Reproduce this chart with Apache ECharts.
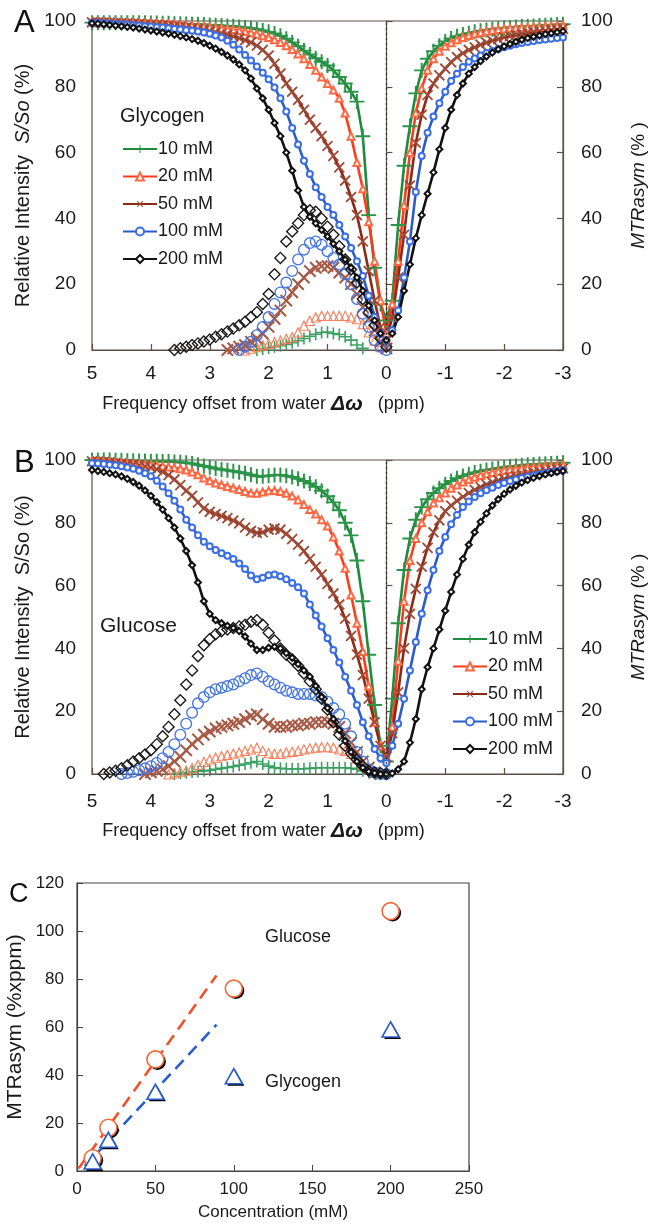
<!DOCTYPE html>
<html>
<head>
<meta charset="utf-8">
<script src="https://cdn.jsdelivr.net/npm/echarts/dist/echarts.min.js"></script>
<style>html,body{margin:0;padding:0;background:#fff}#main{width:651px;height:1226px}</style>
</head>
<body>
<div id="main"></div>
<script>
// frequency offsets (ppm), 5 -> -3
const offsets = [5,4.9,4.8,4.7,4.6,4.5,4.4,4.3,4.2,4.1,4,3.9,3.8,3.7,3.6,3.5,3.4,3.3,3.2,3.1,
  3,2.9,2.8,2.7,2.6,2.5,2.4,2.3,2.2,2.1,2,1.9,1.8,1.7,1.6,1.5,1.4,1.3,1.2,1.1,
  1,0.9,0.8,0.7,0.6,0.5,0.4,0.3,0.2,0.1,0,-0.1,-0.2,-0.3,-0.4,-0.5,-0.6,-0.7,-0.8,-0.9,
  -1,-1.1,-1.2,-1.3,-1.4,-1.5,-1.6,-1.7,-1.8,-1.9,-2,-2.1,-2.2,-2.3,-2.4,-2.5,-2.6,-2.7,-2.8,-2.9,-3];
const concLabels = ['10 mM','20 mM','50 mM','100 mM','200 mM'];

// panel A, glycogen Z-spectra (%)
const zA10 = [99.5,99.5,99.5,99.5,99.5,99.5,99.5,99.5,99.5,99.5,
  99.4,99.4,99.3,99.3,99.2,99.2,99.1,99.0,99.0,98.9,
  98.8,98.7,98.6,98.5,98.4,98.2,98.0,97.8,97.5,97.1,
  96.7,96.2,95.5,94.6,93.5,92.3,91.0,89.8,88.7,87.6,
  86.5,85.0,83.0,81.0,78.5,75.5,65,41,25,14,
  9,15,38,56,68,78,85,88.5,90.8,92.5,
  93.8,94.7,95.4,95.9,96.3,96.7,97.0,97.3,97.5,97.7,
  97.9,98.0,98.2,98.3,98.4,98.5,98.6,98.7,98.8,98.9,99.0];
const zA20 = [99.8,99.8,99.7,99.7,99.6,99.6,99.5,99.5,99.4,99.4,
  99.3,99.2,99.1,99.0,98.9,98.8,98.7,98.6,98.5,98.4,
  98.2,98.0,97.8,97.6,97.4,97.1,96.8,96.4,96.0,95.5,
  95.0,94.3,93.5,92.5,91.3,90.0,88.5,86.8,85.0,83.0,
  81.0,79.0,76.5,72.0,65.0,57.0,49.0,39.0,27.0,15.0,
  5,14,27,44,60,72,79.5,85,88.5,90.8,
  92.3,93.4,94.3,95.0,95.6,96.1,96.5,96.9,97.2,97.4,
  97.6,97.8,97.9,98.0,98.1,98.2,98.3,98.4,98.5,98.6,98.7];
const zA50 = [99.6,99.6,99.5,99.5,99.4,99.4,99.3,99.2,99.1,99.0,
  98.9,98.8,98.7,98.6,98.4,98.2,98.0,97.8,97.5,97.2,
  96.9,96.5,96.1,95.8,95.3,94.8,94.2,93.5,92.5,91.2,
  89.5,87.0,84.0,81.0,78.5,76.0,73.0,70.0,67.5,65.0,
  62.0,59.0,55.5,51.5,46.5,41.0,33.0,24.0,15.0,7.0,
  3,10,22,35,50,63,71.5,77.5,81,83.5,
  85.5,87.5,89.0,90.2,91.2,92.0,92.8,93.4,94.0,94.5,
  95.0,95.4,95.7,96.0,96.3,96.6,96.8,97.0,97.2,97.4,97.6];
const zA100 = [99.5,99.4,99.3,99.2,99.1,99.0,98.9,98.7,98.6,98.4,
  98.3,98.1,98.0,97.8,97.6,97.4,97.2,97.0,96.8,96.5,
  96.1,95.6,95.0,94.0,92.8,91.3,89.7,88.0,86.2,84.3,
  82.3,79.8,76.5,72.5,67.5,62.5,57.5,53.5,49.5,46.5,
  43.5,41.0,38.0,34.5,31.0,27.0,22.5,16.5,10.0,5.0,
  3,6,12,22,33,48,59,66,71,75,
  78.5,81.8,84.0,86.0,87.6,88.6,89.5,90.3,90.9,91.5,
  92.0,92.5,92.9,93.3,93.6,93.9,94.2,94.4,94.6,94.8,95.0];
const zA200 = [99.3,99.2,99.0,98.8,98.6,98.4,98.2,98.0,97.7,97.4,
  97.1,96.8,96.5,96.2,95.8,95.4,95.0,94.5,94.0,93.3,
  92.5,91.6,90.6,89.5,88.3,86.8,85.0,82.5,79.5,76.5,
  73.0,69.0,65.0,60.0,54.5,48.5,43.5,40.5,38.5,36.5,
  34.5,32.3,30.0,27.5,25.0,22.0,18.0,13.5,9.0,5.0,
  3,5,10,18,26,34,41,47.5,54,61,
  67.5,73,77.5,81,84,86,87.8,89.2,90.4,91.4,
  92.3,93.0,93.7,94.3,94.8,95.2,95.6,96.0,96.3,96.6,96.9];

// panel A, glycogen MTRasym (%), offsets 5 -> 0
const mA10 = [null,null,null,null,null,null,null,null,null,null,
  null,null,null,null,null,null,null,null,null,null,
  null,null,null,null,null,null,null,null,0,0.3,
  0.6,1,1.3,1.7,2.2,2.8,3.5,4.2,4.8,5.3,
  5.5,5,4.7,4,3,1.5,0.5,null,null,null,null];
const mA20 = [null,null,null,null,null,null,null,null,null,null,
  null,null,null,null,null,null,null,null,null,null,
  null,null,null,null,null,null,0,0.5,1,1.5,
  2,2.5,3,3.5,4,5.5,7.5,9,10,10.5,
  10.5,10.5,10.5,10.5,10,9.5,8,5.5,3,1,null];
const mA50 = [null,null,null,null,null,null,null,null,null,null,
  null,null,null,null,null,null,null,null,null,null,
  null,null,null,0,0.5,1,1.5,2.5,3.5,5,
  7,9.5,12,15,17.5,20,22,24,25,25.5,
  25.5,25,23.5,22,20,17,13,9.5,6,2.5,0.5];
const mA100 = [null,null,null,null,null,null,null,null,null,null,
  null,null,null,null,null,null,null,null,null,null,
  null,null,null,null,null,0,1,2.5,4.5,7,
  10,14,17.5,20.5,24,27.5,30.5,32.5,33,32,
  30,28,26,23,20,15.5,11,7,3,1,0];
const mA200 = [null,null,null,null,null,null,null,null,null,null,
  null,null,null,null,0,0.5,1,1.5,2,2.6,
  3.2,4,4.8,5.6,6.5,7.5,8.6,10,11.5,14,
  17,23,28,33,36,38.5,41,42.5,42,40,
  37.5,35,31.5,27.5,24.5,20.5,15.5,11.5,7.5,3.5,1];

// panel B, glucose Z-spectra (%)
const zB10 = [100,100,100,100,99.9,99.9,99.8,99.8,99.7,99.7,
  99.6,99.6,99.5,99.5,99.4,99.3,99.1,98.9,98.5,98.1,
  97.7,97.3,97.0,96.7,96.4,96.1,95.8,95.3,94.8,94.8,
  95.0,95.2,95.2,95.0,94.6,94.0,93.3,92.5,91.5,90.2,
  88.5,86.5,84.0,80.0,76.0,68.0,55.0,38.0,22.0,9.0,
  4,24,48,65,75,81,85,87.5,89.5,91,
  92.3,93.3,94.2,94.9,95.5,96.0,96.4,96.8,97.1,97.4,
  97.7,97.9,98.1,98.3,98.5,98.6,98.7,98.8,98.9,99.0,99.1];
const zB20 = [99.7,99.6,99.5,99.4,99.3,99.2,99.1,99.0,98.9,98.7,
  98.5,98.3,98.1,97.8,97.5,97.2,96.8,96.2,95.3,94.3,
  93.4,92.7,92.1,91.6,91.1,90.6,90.0,89.5,89.4,89.8,
  90.2,90.3,90.0,89.4,88.5,87.3,85.8,84.2,82.8,81.0,
  79.0,75.5,71.0,65.5,57.0,48.0,39.0,28.0,16.5,9.0,
  5,15,36,55,68,75,80,83.5,86.3,88,
  89.5,91.0,92.0,93.0,93.8,94.5,95.1,95.6,96.0,96.4,
  96.7,97.0,97.2,97.4,97.6,97.8,97.9,98.1,98.2,98.3,98.4];
const zB50 = [99.6,99.5,99.4,99.3,99.1,98.9,98.7,98.5,98.3,98.0,
  97.6,97.0,96.2,95.2,93.8,92.0,90.2,88.6,86.5,84.6,
  83.5,82.8,82.2,81.5,80.7,79.8,78.5,77.4,76.8,77.0,
  77.8,78.2,77.8,76.5,74.8,73.0,71.0,68.5,66.0,63.5,
  60.5,57.5,54.0,49.5,44.0,38.0,31.5,24.0,16.5,9.0,
  5.5,13,26,40,51,59,66,72,77,80.8,
  83.7,85.5,87.0,88.3,89.5,90.5,91.4,92.2,92.9,93.5,
  94.0,94.5,94.9,95.3,95.6,95.9,96.2,96.5,96.8,97.0,97.3];
const zB100 = [99.0,98.9,98.7,98.5,98.3,98.0,97.6,97.2,96.6,95.8,
  94.8,93.4,91.6,89.4,87.0,84.2,81.0,78.5,76.0,74.0,
  72.5,71.3,70.3,69.5,68.5,67.0,65.3,63.2,62.0,62.5,
  63.3,63.5,63.0,62.0,60.8,59.5,57.5,54.0,50.5,47.0,
  43.2,39.5,35.5,31.0,26.5,22.0,16.5,12.0,8.0,5.0,
  3.5,9,16,24,33,42,51,58.5,65,71,
  75.5,79.5,82.5,85.0,86.8,88.2,89.4,90.4,91.2,92.0,
  92.7,93.3,93.8,94.3,94.7,95.1,95.5,95.8,96.1,96.4,96.7];
const zB200 = [96.8,96.5,96.2,95.8,95.4,94.8,94.0,93.0,91.8,90.3,
  88.6,86.6,84.2,81.5,78.5,75.0,71.0,66.5,61.0,55.0,
  51.0,49.0,48.0,47.2,46.5,45.5,43.8,41.5,39.5,39.5,
  40.2,40.5,40.0,38.5,37.0,35.0,33.0,31.0,28.0,24.5,
  21.0,17.5,14.0,10.5,7.0,4.0,2.0,0.8,0.3,0.0,
  0.0,0.2,1.5,4.0,10.0,17.5,27.0,34.0,40.0,46.0,
  52.0,58.0,63.5,68.5,73.0,77.0,80.3,83.0,85.5,87.5,
  89.2,90.6,91.8,92.8,93.6,94.3,94.9,95.4,95.8,96.2,96.5];

// panel B, glucose MTRasym (%), offsets 5 -> 0
const mB10 = [null,null,null,null,null,null,null,null,null,null,
  null,null,null,null,0,0.2,0.4,0.6,0.8,1,
  1.2,1.5,1.8,2.1,2.4,2.8,3.2,3.6,4,3.2,
  2.5,2,1.8,1.7,1.6,1.6,1.7,1.8,1.9,2,
  2,2,2,2,1.8,1.5,1,0.5,0.2,null,null];
const mB20 = [null,null,null,null,null,null,null,null,null,null,
  null,null,null,0,0.3,0.7,1.2,2,3,4,
  4.8,5.3,5.8,6.2,6.6,7,7.5,8,8.5,7.5,
  6.8,6.5,6.5,7,7.2,7.5,8,8.3,8.5,8.7,
  8.7,8.5,8,7.5,6.5,5,3,1.5,0.5,null,null];
const mB50 = [null,null,null,null,null,null,null,null,null,0,
  0.5,1,1.5,2.5,4,5.5,7.5,9.5,11,12.5,
  13.5,14.5,15,15.5,16,16.5,17.5,18.5,19,17.5,
  16,15,15,15,15.5,15.5,16,16,16.5,16.5,
  16.5,16,15,13,10,7,4,2,0.5,0,null];
const mB100 = [null,null,null,null,null,0,0.3,0.7,1.2,1.8,
  2.5,3.5,5,7,9.5,12.5,16,19.5,22.5,24.5,
  26,27,27.5,28,28.5,29.5,30.5,31.5,32,31,
  29.5,28.5,27.5,26.5,26,25.5,25.5,25.5,25,24.5,
  23,21,19,16,12,7,4,1.5,0.5,0,0];
const mB200 = [null,null,0,0.5,1,1.8,2.8,4,5,6.2,
  7.6,9.5,12,15,19,23.5,28.5,33,37.5,41,
  43,44.5,45.5,46,46.5,47,47.5,48.5,49,47.5,
  45,42.5,40,38,36.5,34.5,32,29.5,27,24,
  20.5,16.5,12.5,9,6.5,4.5,2.5,1,0.5,0.2,0];

// panel C
const concC = [10, 20, 50, 100, 200];
const glucoseC = [5.3, 18, 46.5, 76, 108.3];
const glycogenC = [4, 13, 33, 39.5, 59];
const glucoseFitX = [1, 89], glucoseFitY = [1, 81.5];
const glycogenFitX = [5, 89], glycogenFitY = [2, 61];

const F = '"Liberation Sans", Arial, sans-serif';
const AX = '#5e4e48';
const TXT = '#1a1a1a';

const PLUS = 'path://M0,4.35H10V5.65H0Z M4.35,0H5.65V10H4.35Z';
const RING_DIAMOND = 'path://M5,0L10,5L5,10L0,5Z M5,1.5L1.5,5L5,8.5L8.5,5Z';
const RING_CIRCLE = 'path://M5,0A5,5,0,1,1,5,10A5,5,0,1,1,5,0Z M5,1.1A3.9,3.9,0,1,0,5,8.9A3.9,3.9,0,1,0,5,1.1Z';
const RING_TRI = 'path://M5,0L10,10L0,10Z M5,2.4L1.7,9.1L8.3,9.1Z';

// style per concentration: line colour, marker colour, MTRasym colour, symbols
const styles = [
  {line:'#1d8a3c', mark:'#2a9448', mtr:'#3aa062', sym:PLUS, size:15, rot:0, bw:0, msym:PLUS, msize:12, mrot:0},
  {line:'#ff3b1c', mark:'#ff6a45', mtr:'#f7825f', sym:'emptyTriangle', size:7, rot:0, bw:1.2, msym:RING_TRI, msize:11, mrot:0},
  {line:'#8c2a18', mark:'#9e4a36', mtr:'#a65a46', sym:PLUS, size:14, rot:45, bw:0, msym:PLUS, msize:16, mrot:45},
  {line:'#2b5cc9', mark:'#3b6ee6', mtr:'#4273e2', sym:'emptyCircle', size:6, rot:0, bw:1.2, msym:RING_CIRCLE, msize:12, mrot:0},
  {line:'#111111', mark:'#111111', mtr:'#1a1a1a', sym:'emptyDiamond', size:6, rot:0, bw:1.2, msym:RING_DIAMOND, msize:13, mrot:0}
];

function pairs(xs, ys) {
  return xs.map((x, i) => [x, ys[i]]).filter(p => p[1] != null);
}

const posOffsets = offsets.slice(0, 51);

function zSeries(tag, k, data, gi) {
  const s = styles[k];
  const ser = {
    type: 'line', name: tag + '|' + concLabels[k], xAxisIndex: gi, yAxisIndex: gi * 2,
    data: pairs(offsets, data), symbol: s.sym, symbolSize: s.size, symbolRotate: s.rot,
    showAllSymbol: true, lineStyle: {color: s.line, width: 2.6},
    itemStyle: {color: s.mark, borderWidth: s.bw, opacity: 1}, z: 4, clip: false, silent: true
  };
  if (k === 0) {
    ser.markLine = {
      silent: true, symbol: 'none', label: {show: false},
      lineStyle: {type: [2, 3], color: '#333', width: 1.3},
      data: [{xAxis: 0}]
    };
  }
  return ser;
}

function mSeries(k, data, gi) {
  const s = styles[k];
  return {
    type: 'scatter', xAxisIndex: gi, yAxisIndex: gi * 2 + 1,
    data: pairs(posOffsets, data), symbol: s.msym, symbolSize: s.msize, symbolRotate: s.mrot,
    itemStyle: {color: s.mtr, borderWidth: 0, opacity: 1}, z: 2, clip: false, silent: true
  };
}

function zxAxis(gi, margin, gap) {
  return {
    type: 'value', gridIndex: gi, inverse: true, min: -3, max: 5, interval: 1,
    axisLine: {lineStyle: {color: AX, width: 1.2}},
    axisTick: {inside: true, length: 6, lineStyle: {color: AX, width: 1.2}},
    axisLabel: {fontSize: 19, color: TXT, fontFamily: F, margin: margin},
    splitLine: {show: false},
    name: '{a|Frequency offset from water }{b|Δω}{a|   (ppm)}',
    nameLocation: 'middle', nameGap: gap, nameMoveOverlap: false,
    nameTextStyle: {
      padding: [0, 128, 0, 0],
      rich: {
        a: {fontSize: 18, fontFamily: F, color: TXT},
        b: {fontSize: 21, fontFamily: F, color: TXT, fontStyle: 'italic', fontWeight: 'bold'}
      }
    }
  };
}

function zyAxes(gi, sItalic) {
  const base = {
    type: 'value', gridIndex: gi, min: 0, max: 100, interval: 20,
    axisLine: {show: true, lineStyle: {color: AX, width: 1.2}},
    axisTick: {show: true, inside: true, length: 6, lineStyle: {color: AX, width: 1.2}},
    splitLine: {show: false},
    nameLocation: 'middle', nameRotate: 90, nameMoveOverlap: false
  };
  return [
    Object.assign({}, base, {
      position: 'left',
      axisLabel: {fontSize: 19, color: TXT, fontFamily: F, margin: 16},
      name: '{a|Relative Intensity  }{b|S/So}{a| (%)}', nameGap: 59,
      nameTextStyle: {rich: {
        a: {fontSize: 20, fontFamily: F, color: TXT},
        b: {fontSize: 20, fontFamily: F, color: TXT, fontStyle: sItalic ? 'italic' : 'normal'}
      }}
    }),
    Object.assign({}, base, {
      position: 'right',
      axisLabel: {fontSize: 19, color: TXT, fontFamily: F, margin: 18},
      name: '{b|MTRasym}{a| (% )}', nameGap: 66,
      nameTextStyle: {rich: {
        a: {fontSize: 19, fontFamily: F, color: TXT},
        b: {fontSize: 19, fontFamily: F, color: TXT, fontStyle: 'italic'}
      }}
    })
  ];
}

function legend(tag, left, top) {
  return {
    orient: 'vertical', left: left, top: top, itemWidth: 34, itemHeight: 10, itemGap: 9.5,
    selectedMode: false, data: concLabels.map(c => tag + '|' + c),
    formatter: n => n.split('|')[1],
    textStyle: {fontSize: 18, fontFamily: F, color: TXT, padding: [0, 0, 0, -4]}
  };
}

const series = [];
[zA10, zA20, zA50, zA100, zA200].forEach((d, k) => series.push(zSeries('A', k, d, 0)));
[mA10, mA20, mA50, mA100, mA200].forEach((d, k) => series.push(mSeries(k, d, 0)));
[zB10, zB20, zB50, zB100, zB200].forEach((d, k) => series.push(zSeries('B', k, d, 1)));
[mB10, mB20, mB50, mB100, mB200].forEach((d, k) => series.push(mSeries(k, d, 1)));

// panel C: dashed fits, then a black offset copy under each marker as its drop shadow
series.push(
  {type: 'line', xAxisIndex: 2, yAxisIndex: 4, data: pairs(glucoseFitX, glucoseFitY), symbol: 'none',
   lineStyle: {color: '#f2502a', width: 2.6, type: [12, 7]}, z: 2, silent: true},
  {type: 'line', xAxisIndex: 2, yAxisIndex: 4, data: pairs(glycogenFitX, glycogenFitY), symbol: 'none',
   lineStyle: {color: '#2b5cc8', width: 2.6, type: [12, 7]}, z: 2, silent: true},
  {type: 'scatter', xAxisIndex: 2, yAxisIndex: 4, data: pairs(concC, glucoseC), symbol: 'circle', symbolSize: 17,
   symbolOffset: [2, 2], itemStyle: {color: '#000', opacity: 1}, z: 3, clip: false, silent: true},
  {type: 'scatter', xAxisIndex: 2, yAxisIndex: 4, data: pairs(concC, glucoseC), symbol: 'circle', symbolSize: 17,
   itemStyle: {color: '#fff', borderColor: '#f26a3c', borderWidth: 1.6, opacity: 1}, z: 4, clip: false, silent: true},
  {type: 'scatter', xAxisIndex: 2, yAxisIndex: 4, data: pairs(concC, glycogenC), symbol: 'triangle', symbolSize: [17, 15],
   symbolOffset: [2, 2], itemStyle: {color: '#000', opacity: 1}, z: 3, clip: false, silent: true},
  {type: 'scatter', xAxisIndex: 2, yAxisIndex: 4, data: pairs(concC, glycogenC), symbol: 'triangle', symbolSize: [17, 15],
   itemStyle: {color: '#fff', borderColor: '#2b5cc8', borderWidth: 1.6, opacity: 1}, z: 4, clip: false, silent: true}
);

const yA = zyAxes(0, true), yB = zyAxes(1, false);

const option = {
  animation: false,
  backgroundColor: '#fff',
  title: [
    {text: 'A', left: 9, top: 3, textStyle: {fontSize: 31, fontWeight: 'normal', color: '#111', fontFamily: F}},
    {text: 'B', left: 9, top: 443, textStyle: {fontSize: 31, fontWeight: 'normal', color: '#111', fontFamily: F}},
    {text: 'C', left: 4, top: 876, textStyle: {fontSize: 27, fontWeight: 'normal', color: '#111', fontFamily: F}}
  ],
  grid: [
    {left: 92, top: 21, width: 471, height: 329, show: true, borderColor: AX, borderWidth: 1.2, outerBoundsMode: 'none'},
    {left: 92, top: 460, width: 471, height: 314, show: true, borderColor: AX, borderWidth: 1.2, outerBoundsMode: 'none'},
    {left: 77, top: 883, width: 392, height: 288, show: true, borderColor: '#444', borderWidth: 1.2, outerBoundsMode: 'none'}
  ],
  legend: [legend('A', 117, 135), legend('B', 447, 625)],
  xAxis: [
    zxAxis(0, 14, 44),
    zxAxis(1, 18, 47),
    {type: 'value', gridIndex: 2, min: 0, max: 250, interval: 50,
     axisLine: {lineStyle: {color: '#444', width: 1.2}},
     axisTick: {inside: true, length: 6, lineStyle: {color: '#444'}},
     axisLabel: {fontSize: 17, color: TXT, fontFamily: F, margin: 10},
     splitLine: {show: false},
     name: 'Concentration (mM)', nameLocation: 'middle', nameGap: 33, nameMoveOverlap: false,
     nameTextStyle: {fontSize: 17, fontFamily: F, color: TXT}}
  ],
  yAxis: [
    yA[0], yA[1], yB[0], yB[1],
    {type: 'value', gridIndex: 2, min: 0, max: 120, interval: 20,
     axisLine: {show: true, lineStyle: {color: '#444', width: 1.2}},
     axisTick: {show: true, inside: true, length: 6, lineStyle: {color: '#444'}},
     axisLabel: {fontSize: 17, color: TXT, fontFamily: F, margin: 13},
     splitLine: {show: false},
     name: 'MTRasym (%xppm)', nameLocation: 'middle', nameRotate: 90, nameGap: 51, nameMoveOverlap: false,
     nameTextStyle: {fontSize: 21, fontFamily: F, color: TXT}}
  ],
  graphic: [
    {type: 'text', left: 120, top: 106, style: {text: 'Glycogen', fontSize: 20, fontFamily: F, fill: TXT}},
    {type: 'text', left: 100, top: 616, style: {text: 'Glucose', fontSize: 21, fontFamily: F, fill: TXT}},
    {type: 'text', left: 265, top: 928, style: {text: 'Glucose', fontSize: 18, fontFamily: F, fill: TXT}},
    {type: 'text', left: 265, top: 1073, style: {text: 'Glycogen', fontSize: 18, fontFamily: F, fill: TXT}}
  ],
  series: series
};

echarts.init(document.getElementById('main')).setOption(option);
</script>
</body>
</html>
